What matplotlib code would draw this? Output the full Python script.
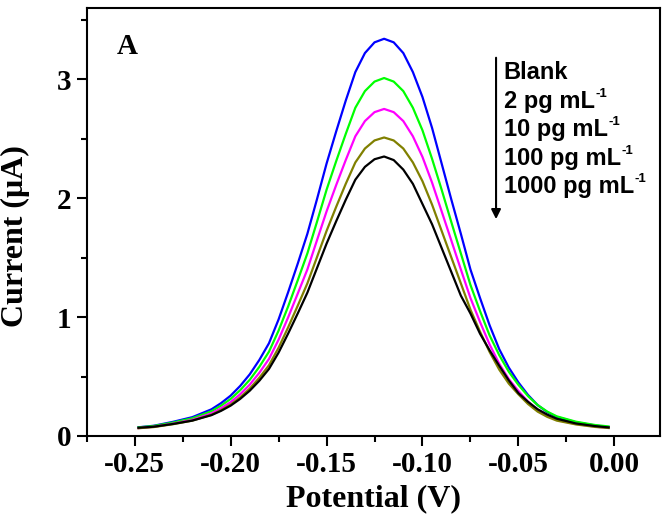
import matplotlib
matplotlib.use('Agg')
import matplotlib.pyplot as plt
from matplotlib.ticker import MultipleLocator

# potential (V), shared by all curves
potential = [-0.248, -0.24, -0.23, -0.22, -0.21, -0.205, -0.20, -0.195, -0.19, -0.185,
             -0.18, -0.175, -0.17, -0.165, -0.16, -0.155, -0.15, -0.145, -0.14, -0.135,
             -0.13, -0.125, -0.12, -0.115, -0.11, -0.105, -0.10, -0.095, -0.09, -0.085,
             -0.08, -0.075, -0.07, -0.065, -0.06, -0.055, -0.05, -0.045, -0.04, -0.035,
             -0.03, -0.02, -0.01, -0.003]

# current (uA)
blue = [0.073, 0.086, 0.119, 0.158, 0.224, 0.276, 0.339, 0.421, 0.519, 0.64,
        0.78, 0.98, 1.21, 1.45, 1.70, 1.99, 2.29, 2.56, 2.82, 3.06,
        3.22, 3.31, 3.34, 3.31, 3.22, 3.06, 2.85, 2.59, 2.29, 1.99,
        1.70, 1.40, 1.16, 0.93, 0.73, 0.575, 0.45, 0.345, 0.26, 0.201,
        0.16, 0.115, 0.088, 0.075]
green = [0.072, 0.084, 0.113, 0.149, 0.208, 0.255, 0.311, 0.385, 0.473, 0.582,
         0.709, 0.886, 1.09, 1.31, 1.535, 1.80, 2.07, 2.31, 2.54, 2.76,
         2.90, 2.98, 3.01, 2.98, 2.90, 2.76, 2.57, 2.33, 2.07, 1.80,
         1.535, 1.27, 1.05, 0.845, 0.68, 0.54, 0.43, 0.335, 0.26, 0.205,
         0.165, 0.12, 0.092, 0.08]
magenta = [0.066, 0.077, 0.104, 0.136, 0.19, 0.233, 0.284, 0.351, 0.432, 0.532,
           0.648, 0.81, 0.998, 1.198, 1.40, 1.645, 1.888, 2.109, 2.32, 2.52,
           2.648, 2.723, 2.75, 2.723, 2.648, 2.52, 2.346, 2.13, 1.888, 1.645,
           1.40, 1.16, 0.958, 0.769, 0.607, 0.478, 0.378, 0.289, 0.219, 0.171,
           0.136, 0.101, 0.078, 0.068]
olive = [0.065, 0.075, 0.099, 0.129, 0.178, 0.217, 0.264, 0.325, 0.399, 0.49,
         0.595, 0.742, 0.914, 1.096, 1.283, 1.503, 1.724, 1.926, 2.12, 2.30,
         2.417, 2.485, 2.51, 2.485, 2.417, 2.30, 2.142, 1.945, 1.724, 1.503,
         1.283, 1.062, 0.877, 0.706, 0.558, 0.44, 0.35, 0.269, 0.205, 0.161,
         0.129, 0.097, 0.076, 0.067]
black = [0.069, 0.078, 0.101, 0.129, 0.175, 0.211, 0.255, 0.312, 0.381, 0.465,
         0.564, 0.701, 0.862, 1.031, 1.205, 1.411, 1.617, 1.805, 1.986, 2.155,
         2.263, 2.327, 2.35, 2.32, 2.24, 2.12, 1.95, 1.78, 1.58, 1.38,
         1.18, 1.03, 0.86, 0.72, 0.59, 0.467, 0.36, 0.287, 0.225, 0.18,
         0.145, 0.105, 0.083, 0.072]

labels = ['Blank', '2 pg mL', '10 pg mL', '100 pg mL', '1000 pg mL']
superscripts = ['', '-1', '-1', '-1', '-1']

fig = plt.figure(figsize=(6.62, 5.24), dpi=100)
ax = fig.add_axes([0.131, 0.168, 0.866, 0.817])

ax.plot(potential, blue, color='#0000ff', lw=1.6)
ax.plot(potential, green, color='#00ff00', lw=1.6)
ax.plot(potential, magenta, color='#ff00ff', lw=1.6)
ax.plot(potential, olive, color='#808000', lw=1.6)
ax.plot(potential, black, color='black', lw=1.6)

ax.set_xlim(-0.275, 0.0238)
ax.set_ylim(0, 3.6)
ax.xaxis.set_minor_locator(MultipleLocator(0.025))
ax.yaxis.set_major_locator(MultipleLocator(1))
ax.yaxis.set_minor_locator(MultipleLocator(0.5))
ax.set_xticks([-0.25, -0.20, -0.15, -0.10, -0.05, 0.00])
ax.set_xticklabels(['-0.25', '-0.20', '-0.15', '-0.10', '-0.05', '0.00'])

for s in ax.spines.values():
    s.set_linewidth(1.5)
ax.tick_params(which='major', direction='out', length=7, width=1.5, pad=4)
ax.tick_params(which='minor', direction='out', length=4, width=1.5)
for t in ax.get_xticklabels() + ax.get_yticklabels():
    t.set_fontfamily('Liberation Serif')
    t.set_fontweight('bold')
    t.set_fontsize(21)

ax.set_xlabel('Potential (V)', fontfamily='Liberation Serif', fontweight='bold', fontsize=23, labelpad=4)
ax.set_ylabel('Current (\u03bcA)', fontfamily='Liberation Serif', fontweight='bold', fontsize=23)
ax.yaxis.set_label_coords(-0.0995, 0.467)

ax.text(0.052, 0.909, 'A', transform=ax.transAxes, fontfamily='Liberation Serif',
        fontweight='bold', fontsize=21, va='center', ha='left')

# concentration list with arrow
ax.annotate('', xy=(0.714, 0.50), xytext=(0.714, 0.89), xycoords='axes fraction',
            arrowprops=dict(arrowstyle='-|>', color='black', lw=1.5, mutation_scale=14))
for i, lab in enumerate(labels):
    t = ax.text(0.727, 0.848 - i * 0.0664, lab, transform=ax.transAxes,
                fontfamily='Liberation Sans', fontweight='bold', fontsize=17,
                va='center', ha='left')
    if superscripts[i]:
        ax.annotate(superscripts[i], xy=(1, 1), xycoords=t, xytext=(0.5, 1.5),
                    textcoords='offset points', va='top', ha='left',
                    fontfamily='Liberation Sans', fontweight='bold', fontsize=9.5)

fig.savefig('out.png', dpi=100)
